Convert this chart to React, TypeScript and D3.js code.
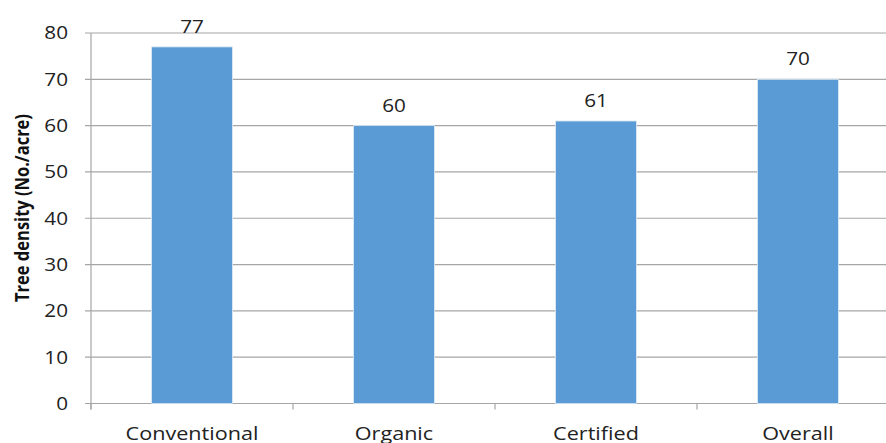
import React from "react";
import * as d3 from "d3";

const categories = ["Conventional", "Organic", "Certified", "Overall"];
const values = [77, 60, 61, 70];
const yTicks = [0, 10, 20, 30, 40, 50, 60, 70, 80];

const W = 886;
const H = 443;
const margin = { left: 91, top: 33, bottom: 39.5 };
const band = 202;

export default function App() {
  const x = d3
    .scaleBand<string>()
    .domain(categories)
    .range([margin.left, margin.left + band * categories.length])
    .paddingInner(0.6)
    .paddingOuter(0.3);
  const y = d3.scaleLinear().domain([0, 80]).range([H - margin.bottom, margin.top]);
  const font = "'Open Sans', sans-serif";
  const xEnd = margin.left + band * categories.length;

  return (
    <svg
      width={W}
      height={H}
      style={{ position: "absolute", left: 0, top: 0, background: "#fff" }}
    >
      {yTicks.map((t) => (
        <g key={t}>
          <line x1={margin.left - 6} x2={xEnd} y1={y(t)} y2={y(t)} stroke="#a6a6a6" strokeWidth={1.2} />
          <text
            x={68}
            y={y(t)}
            dy="0.36em"
            textAnchor="end"
            fontFamily={font}
            fontSize={18}
            fill="#222"
            transform={`translate(68,0) scale(1.15,1) translate(-68,0)`}
          >
            {t}
          </text>
        </g>
      ))}
      <line x1={margin.left} x2={margin.left} y1={y(80)} y2={y(0) + 6} stroke="#a6a6a6" strokeWidth={1.2} />
      {d3.range(categories.length + 1).map((i) => (
        <line
          key={i}
          x1={margin.left + band * i}
          x2={margin.left + band * i}
          y1={y(0)}
          y2={y(0) + 6}
          stroke="#a6a6a6"
          strokeWidth={1.2}
        />
      ))}
      {categories.map((c, i) => {
        const bx = x(c)!;
        const cx = bx + x.bandwidth() / 2;
        return (
          <g key={c}>
            <rect
              x={bx}
              y={y(values[i])}
              width={x.bandwidth()}
              height={y(0) - y(values[i])}
              fill="#5b9bd5"
              stroke="#ddeaf6"
              strokeWidth={0.8}
            />
            <text
              x={cx}
              y={y(values[i]) - 14}
              textAnchor="middle"
              fontFamily={font}
              fontSize={18}
              fill="#222"
              transform={`translate(${cx},0) scale(1.15,1) translate(${-cx},0)`}
            >
              {values[i]}
            </text>
            <text
              x={cx}
              y={y(0) + 37}
              textAnchor="middle"
              fontFamily={font}
              fontSize={18}
              fill="#222"
              transform={`translate(${cx},0) scale(1.2,1) translate(${-cx},0)`}
            >
              {c}
            </text>
          </g>
        );
      })}
      <text
        transform={`translate(29,208) rotate(-90) scale(1,1.2)`}
        textAnchor="middle"
        fontFamily={font}
        fontWeight="bold"
        fontSize={16.5}
        fill="#111"
      >
        Tree density (No./acre)
      </text>
    </svg>
  );
}
